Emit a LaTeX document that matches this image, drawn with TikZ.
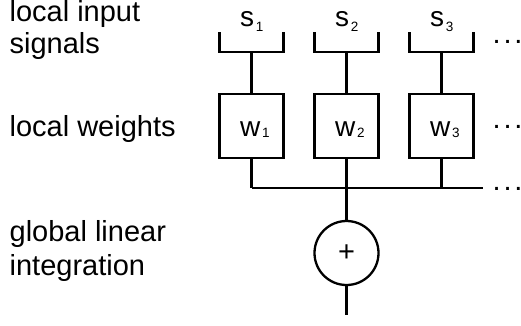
\documentclass[tikz,border=0pt]{standalone}
\usepackage{fontspec}
\setmainfont{Liberation Sans}
\begin{document}
\begin{tikzpicture}[x=1pt,y=-1pt,line width=2.3pt,
  lbl/.style={anchor=base west,inner sep=0pt,font=\fontsize{29}{32}\selectfont},
  sym/.style={anchor=base west,inner sep=0pt,font=\fontsize{28}{30}\selectfont},
  wbox/.style={draw,rectangle,minimum size=64pt,inner sep=0pt},
  sumnode/.style={draw,circle,minimum size=64pt,inner sep=0pt,font=\fontsize{29}{32}\selectfont},
  dotsnode/.style={anchor=base west,inner sep=0pt,font=\fontsize{29}{32}\selectfont}]
\useasboundingbox (0,0) rectangle (521,325);
\newcommand{\subsc}[2]{\kern1.8pt\raisebox{-#1pt}{\fontsize{13.5}{15}\selectfont #2}}
% left labels
\node[lbl] (l1a) at (8.5,21.7) {local input};
\node[lbl] (l1b) at (8.5,53.3) {signals};
\node[lbl] (l2) at (8.5,136.7) {local weights};
\node[lbl] (l3a) at (8.5,241.7) {global linear};
\node[lbl] (l3b) at (8.5,275) {integration};
% columns
\foreach \i/\cx in {1/251.5,2/346.5,3/441.5}{
  \draw (\cx-32,32) -- (\cx-32,52) -- (\cx+32,52) -- (\cx+32,32);
  \coordinate (in\i) at (\cx,52);
  \node[sym] (s\i) at (\cx-12.5,26.7) {s\subsc{4.5}{\i}};
  \node[wbox] (w\i) at (\cx,126) {};
  \node[sym] (wl\i) at (\cx-12.5,136.7) {w\subsc{0.8}{\i}};
  \coordinate (bus\i) at (\cx,188);
  \draw (in\i) -- (w\i.north);
  \draw (w\i.south) -- (bus\i);
}
\coordinate (busend) at (483,188);
\draw (bus1) -- (busend);
\node[sumnode] (sum) at (346.5,253) {\raisebox{-1.5pt}{+}};
\coordinate (out) at (346.5,315);
\draw (bus2) -- (sum.north);
\draw (sum.south) -- (out);
% dots
\node[dotsnode] (d1) at (491.5,43.1) {.\kern2.8pt.\kern2.8pt.};
\node[dotsnode] (d2) at (491.5,128.4) {.\kern2.8pt.\kern2.8pt.};
\node[dotsnode] (d3) at (491.5,190.4) {.\kern2.8pt.\kern2.8pt.};
\end{tikzpicture}
\end{document}
